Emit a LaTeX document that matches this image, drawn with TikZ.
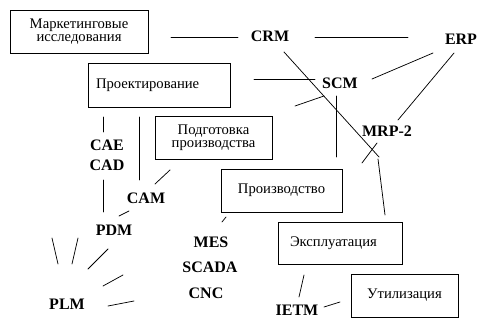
\documentclass[tikz,border=0pt]{standalone}
\usepackage{fontspec}
\setmainfont{Liberation Serif}
\usepackage{tikz}
\usetikzlibrary{positioning}
\def\pu{0.75pt}
\tikzset{
  box/.style={draw, line width=0.6pt, font=\fontsize{11}{9.5}\selectfont, align=center, inner sep=0pt},
  lbox/.style={box, align=left},
  tag/.style={font=\fontsize{12}{14}\selectfont\bfseries, inner sep=0pt},
  lnk/.style={line width=0.55pt, line cap=round},
}

\begin{document}
\begin{tikzpicture}[x=\pu, y=-\pu]
\useasboundingbox (0,0) rectangle (495,334);
% stages of the life cycle
\node[box, minimum width=138*\pu, minimum height=43*\pu] (mkt) at (79,31.5) {Маркетинговые\\исследования};
\node[lbox, minimum width=142*\pu, minimum height=44*\pu, inner xsep=6pt, text width=94.5pt] (design) at (159,85) {Проектирование};
\node[box, minimum width=117*\pu, minimum height=43*\pu] (prep) at (213.5,137.5) {Подготовка\\производства};
\node[box, minimum width=121*\pu, minimum height=43*\pu] (prod) at (281.5,190.5) {Производство};
\node[lbox, minimum width=124*\pu, minimum height=42*\pu, inner xsep=9pt, text width=75pt] (oper) at (340,243) {Эксплуатация};
\node[box, minimum width=107*\pu, minimum height=43*\pu] (util) at (404.5,295.5) {Утилизация};
% systems
\node[tag] (crm) at (270,36) {CRM};
\node[tag] (erp) at (461,39) {ERP};
\node[tag] (scm) at (340,83) {SCM};
\node[tag] (mrp) at (387,131) {MRP-2};
\node[tag] (cae) at (107,145) {CAE};
\node[tag] (cad) at (107,165) {CAD};
\node[tag] (cam) at (146,198) {CAM};
\node[tag] (pdm) at (114,230) {PDM};
\node[tag] (plm) at (67,304) {PLM};
\node[tag] (mes) at (211,242) {MES};
\node[tag] (scada) at (210,267) {SCADA};
\node[tag] (cnc) at (206,293) {CNC};
\node[tag] (ietm) at (297,310) {IETM};
% free ends of the links
\coordinate (mc1) at (171,37);  \coordinate (mc2) at (238,37);
\coordinate (ce1) at (315,37);  \coordinate (ce2) at (408,37);
\coordinate (cr1) at (284,52);  \coordinate (cr2) at (379,157);
\coordinate (cr3) at (378,159); \coordinate (cr4) at (385,215);
\coordinate (es1) at (433,53);  \coordinate (es2) at (372,79);
\coordinate (em1) at (454,53);  \coordinate (em2) at (398,120);
\coordinate (ds1) at (254,79);  \coordinate (ds2) at (315,79);
\coordinate (sp1) at (324,96);  \coordinate (sp2) at (295,106);
\coordinate (sd1) at (336,96);  \coordinate (sd2) at (336,157);
\coordinate (md1) at (377,143); \coordinate (md2) at (362,163);
\coordinate (da1) at (103,117); \coordinate (da2) at (103,132);
\coordinate (dm1) at (139,117); \coordinate (dm2) at (139,180);
\coordinate (cp1) at (103,180); \coordinate (cp2) at (103,212);
\coordinate (mp1) at (155,184); \coordinate (mp2) at (170,170);
\coordinate (mq1) at (129,211); \coordinate (mq2) at (119,216);
\coordinate (fa1) at (52,238);  \coordinate (fa2) at (58,264);
\coordinate (fb1) at (78,238);  \coordinate (fb2) at (72,264);
\coordinate (fc1) at (108,249); \coordinate (fc2) at (88,269);
\coordinate (fd1) at (123,275); \coordinate (fd2) at (103,286);
\coordinate (fe1) at (108,306); \coordinate (fe2) at (134,301);
\coordinate (pm1) at (226,217); \coordinate (pm2) at (222,222);
\coordinate (oi1) at (304,275); \coordinate (oi2) at (299,297);
\coordinate (iu1) at (324,307); \coordinate (iu2) at (340,302);
\foreach \a in {mc,ce,es,em,ds,sp,sd,md,da,dm,cp,mp,mq,fa,fb,fc,fd,fe,pm,oi,iu}
  \draw[lnk] (\a1) -- (\a2);
\draw[lnk] (cr1) -- (cr2);
\draw[lnk] (cr3) -- (cr4);
\end{tikzpicture}
\end{document}
